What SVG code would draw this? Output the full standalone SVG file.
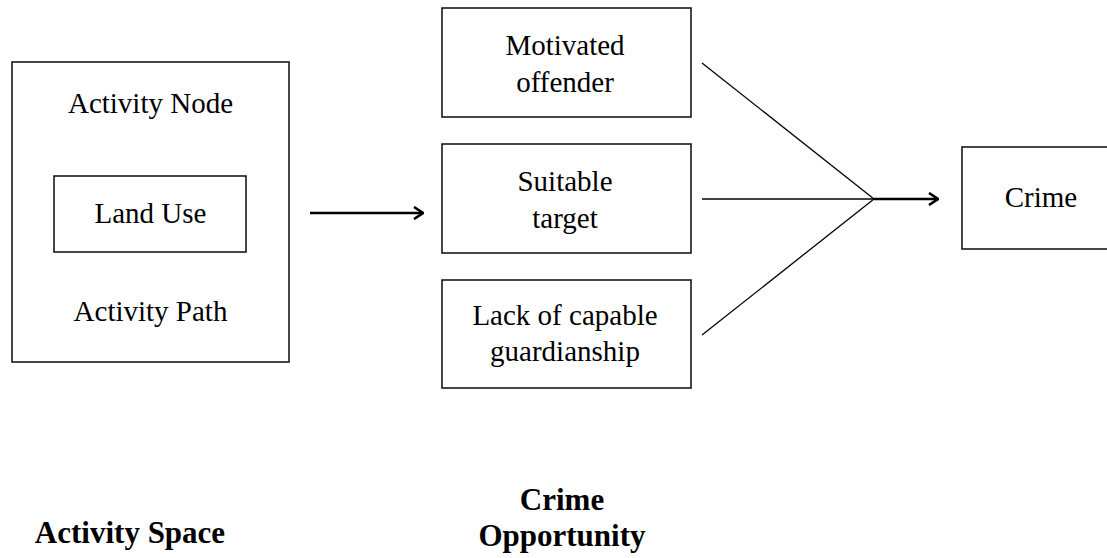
<svg xmlns="http://www.w3.org/2000/svg" width="1107" height="558" viewBox="0 0 1107 558">
<defs>
<style>
.box{fill:#fff;stroke:#1a1a1a;stroke-width:1.6}
.t{font-family:'Liberation Serif','DejaVu Serif',serif;font-size:29px;fill:#000;text-anchor:middle}
.b{font-family:'Liberation Serif','DejaVu Serif',serif;font-size:31px;font-weight:bold;fill:#000;text-anchor:middle}
.ln{stroke:#000;stroke-width:1.3;fill:none}
.ar{stroke:#000;stroke-width:2.6;fill:none}
</style>
<marker id="chev" viewBox="0 0 12 14" refX="11" refY="7" markerWidth="12" markerHeight="14" markerUnits="userSpaceOnUse" orient="auto">
<path d="M2,1 L11,7 L2,13" fill="none" stroke="#000" stroke-width="2.6"/>
</marker>
</defs>
<rect width="1107" height="558" fill="#fff"/>
<g id="activity-space-box">
<rect class="box" x="12" y="62" width="277" height="300"/>
<text class="t" x="150.5" y="113">Activity Node</text>
<text class="t" x="150.5" y="321">Activity Path</text>
</g>
<g id="land-use">
<rect class="box" x="54" y="176" width="192" height="76"/>
<text class="t" x="150.5" y="223">Land Use</text>
</g>
<g id="motivated-offender">
<rect class="box" x="442" y="8" width="249" height="109"/>
<text class="t" x="565" y="55">Motivated</text>
<text class="t" x="565" y="92">offender</text>
</g>
<g id="suitable-target">
<rect class="box" x="442" y="144" width="249" height="109"/>
<text class="t" x="565" y="191">Suitable</text>
<text class="t" x="565" y="228">target</text>
</g>
<g id="lack-guardianship">
<rect class="box" x="442" y="280" width="249" height="108"/>
<text class="t" x="565" y="325">Lack of capable</text>
<text class="t" x="565" y="361">guardianship</text>
</g>
<g id="crime">
<rect class="box" x="962" y="147" width="160" height="102"/>
<text class="t" x="1041" y="207">Crime</text>
</g>
<g id="connectors">
<line class="ar" x1="310" y1="213" x2="423" y2="213" marker-end="url(#chev)"/>
<line class="ln" x1="702" y1="63" x2="874" y2="199"/>
<line class="ln" x1="702" y1="199" x2="874" y2="199"/>
<line class="ln" x1="702" y1="335" x2="874" y2="199"/>
<line class="ar" x1="874" y1="199" x2="938" y2="199" marker-end="url(#chev)"/>
</g>
<g id="labels">
<text class="b" x="130" y="543">Activity Space</text>
<text class="b" x="562" y="510">Crime</text>
<text class="b" x="562" y="546">Opportunity</text>
</g>
</svg>
